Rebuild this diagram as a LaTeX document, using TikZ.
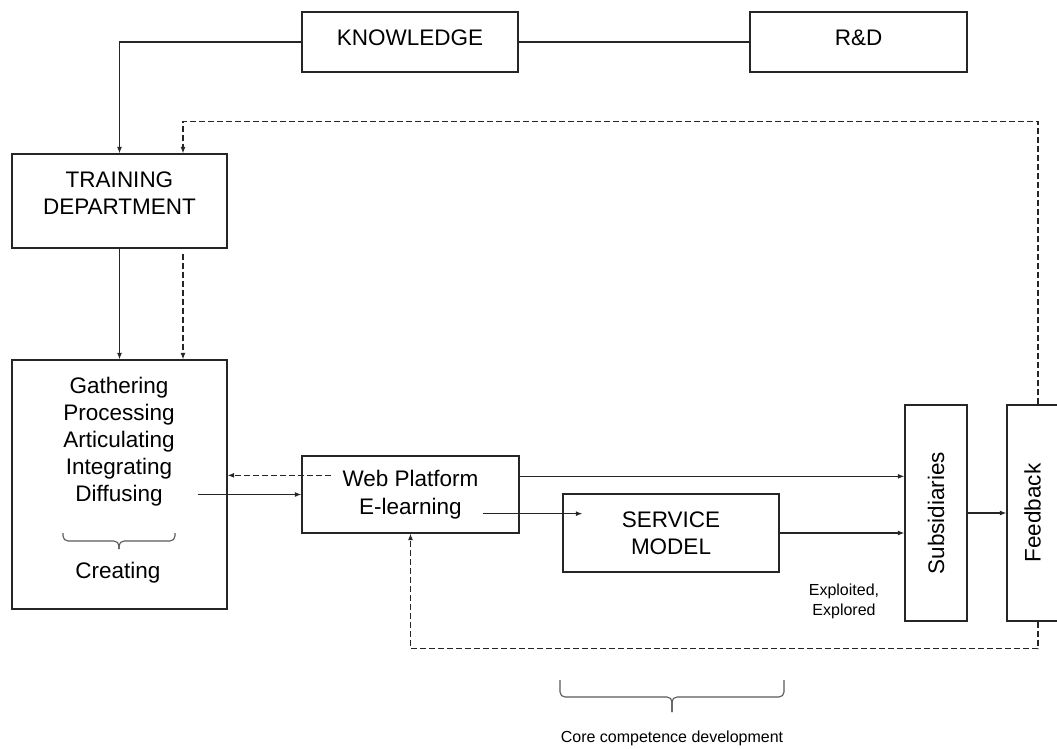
\documentclass[tikz,border=0pt]{standalone}
\usepackage{fontspec}
\setmainfont{Liberation Sans}
\usetikzlibrary{calc,arrows.meta,positioning}
\tikzset{
  blk/.style={rectangle, draw=black!85, line width=1.3pt, inner sep=0pt,
              align=center, font=\fontsize{22.5pt}{27.5pt}\selectfont},
  mtext/.style={inner sep=0pt, align=center,
                font=\fontsize{22.5pt}{27pt}\selectfont},
  lbl/.style={inner sep=0pt, align=center,
              font=\fontsize{16pt}{20pt}\selectfont},
  link/.style={line width=1.1pt, black!85},
  linkdir/.style={link, -{Latex[length=6.5pt,width=5pt]}},
  fbdir/.style={linkdir, dash pattern=on 6pt off 3pt},
  curly/.style={line width=1.1pt, black!65, rounded corners=5pt},
}
\begin{document}
\begin{tikzpicture}[x=1pt, y=-1pt]
  \useasboundingbox (0,0) rectangle (1057,749);
  % boxes
  \node[blk, minimum width=216, minimum height=60, text depth=8pt] (know) at (410,42) {KNOWLEDGE};
  \node[blk, minimum width=217, minimum height=60, text depth=8pt] (rd) at (858.5,42) {R\&D};
  \node[blk, minimum width=215, minimum height=94, text depth=16pt] (train) at (119.5,201) {TRAINING\\DEPARTMENT};
  \node[blk, minimum width=215, minimum height=249] (gather) at (119.5,484.5) {};
  \node[mtext] (steps) at (119,442) {Gathering\\Processing\\Articulating\\Integrating\\Diffusing};
  \node[mtext] (creating) at (118,573) {Creating};
  \node[blk, minimum width=217, minimum height=77] (web) at (410.5,494.5) {Web Platform\\E-learning};
  \node[blk, minimum width=216, minimum height=78] (serv) at (671,533) {SERVICE\\MODEL};
  \node[blk, minimum width=62, minimum height=216] (subs) at (936,513) {\rotatebox{90}{Subsidiaries}};
  \node[blk, minimum width=51, minimum height=216] (feed) at (1032.5,513) {\rotatebox{90}{Feedback}};
  \node[lbl] (expl) at (844,601) {Exploited,\\Explored};
  \node[lbl] (core) at (672,738) {Core competence development};

  % braces
  \draw[curly] (63,533) |- (119,541) -- (119,549);
  \draw[curly] (175,533) |- (119,541) -- (119,549);
  \draw[curly] (560,680) |- (672,697) -- (672,712);
  \draw[curly] (784,680) |- (672,697) -- (672,712);

  % connectors
  \draw[linkdir] (know.west) -| (train.north);
  \draw[link] (know.east) -- (rd.west);
  \draw[linkdir] (train.south) -- (gather.north);
  \draw[fbdir] ([xshift=63.5pt,yshift=-5pt]train.south) -- ([xshift=63.5pt]gather.north);
  \draw[fbdir] ([xshift=5.5pt]feed.north) -- ++(0,-283) -| ([xshift=63.5pt]train.north);
  \draw[linkdir] ($(gather.east |- web.west)+(-30,0)$) -- (web.west);
  \draw[fbdir] ($(web.north west)+(30,20)$) -- ($(gather.east |- web.north)+(0,20)$);
  \draw[linkdir] ($(web.north east)+(0,21)$) -- ($(subs.west |- web.north)+(0,21)$);
  \draw[linkdir] ($(web.south east)+(-37,-20)$) -- ($(serv.west |- web.south)+(20,-20)$);
  \draw[linkdir] (serv.east) -- (serv.east -| subs.west);
  \draw[linkdir] (subs.east) -- (feed.west);
  \draw[fbdir] ([xshift=5.5pt]feed.south) -- ++(0,27) -| (web.south);
\end{tikzpicture}
\end{document}
